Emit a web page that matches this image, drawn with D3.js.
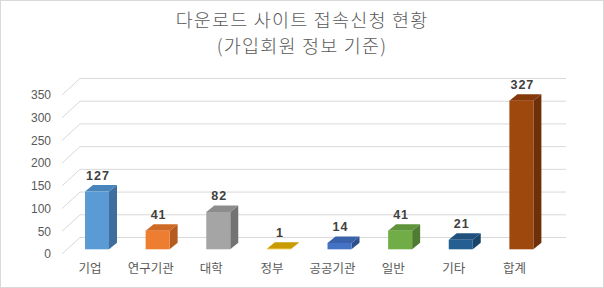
<!DOCTYPE html>
<html>
<head>
<meta charset="utf-8">
<script src="https://cdn.jsdelivr.net/npm/d3@7"></script>
<style>
  body { margin: 0; background: #fff; }
  svg { display: block; }
</style>
</head>
<body>
<svg width="604" height="288"></svg>
<script>
const categories = ['기업', '연구기관', '대학', '정부', '공공기관', '일반', '기타', '합계'];
const values = [127, 41, 82, 1, 14, 41, 21, 327];
const frontColors = ['#5B9BD5', '#ED7D31', '#A5A5A5', '#FFC000', '#4472C4', '#70AD47', '#255E91', '#9E480E'];
const sideColors = ['#3E6E9E', '#B55B1E', '#737373', '#B38800', '#2D4F8C', '#4F7C30', '#1A4468', '#6E3009'];
const topColors = ['#4A84BC', '#CF6A24', '#8C8C8C', '#C99B00', '#3A62AA', '#5F943B', '#20507D', '#85390B'];
const yTicks = [0, 50, 100, 150, 200, 250, 300, 350];
const titleLines = ['다운로드 사이트 접속신청 현황', '(가입회원 정보 기준)'];

const svg = d3.select('svg');
const font = "'Liberation Sans', Arial, sans-serif";
const krFont = "'Noto Sans CJK KR', 'Noto Sans', sans-serif";

// depth offset of the 3d look
const depthX = 18, depthY = -16.5;
const barDX = 8, barDY = -6.5;
const barWidth = 24;

svg.append('rect')
  .attr('x', 0.5).attr('y', 0.5)
  .attr('width', 603).attr('height', 287)
  .attr('fill', '#fff')
  .attr('stroke', '#d9d9d9');

svg.selectAll('.title')
  .data(titleLines)
  .join('text')
    .attr('class', 'title')
    .attr('x', 302)
    .attr('y', (d, i) => 21.5 + i * 26.8)
    .attr('text-anchor', 'middle')
    .attr('dominant-baseline', 'middle')
    .attr('font-family', krFont)
    .attr('font-size', 18.5)
    .attr('font-weight', 300)
    .attr('letter-spacing', 1.2)
    .attr('fill', '#595959')
    .text((d) => d);

// front plane scale (labels) and bar scale
const labelScale = d3.scaleLinear([0, 350], [254, 95]);
const barScale = d3.scaleLinear([0, 350], [249.3, 90.2]);
const xScale = d3.scalePoint(categories, [66.7, 551.7]).padding(0.5);

// gridlines: diagonal from front then along the back wall
const grid = svg.append('g');
grid.selectAll('path')
  .data(yTicks)
  .join('path')
    .attr('d', (d) => {
      const y = labelScale(d);
      return `M62,${y}L${62 + depthX},${y + depthY}L566,${y + depthY}`;
    })
    .attr('fill', 'none')
    .attr('stroke', '#d9d9d9')
    .attr('stroke-width', 1);

const yAxis = d3.axisLeft(labelScale).tickValues(yTicks).tickSize(0).tickPadding(0);
svg.append('g')
  .attr('transform', 'translate(51,0)')
  .call(yAxis)
  .call((g) => g.select('.domain').remove())
  .selectAll('text')
    .attr('font-family', font)
    .attr('font-size', 12)
    .attr('fill', '#595959');

const bars = svg.append('g').selectAll('g')
  .data(categories.map((c, i) => ({ c, v: values[i], i })))
  .join('g');

bars.each(function (d) {
  const g = d3.select(this);
  const x0 = xScale(d.c) - barWidth / 2;
  const x1 = x0 + barWidth;
  const yb = barScale(0);
  const yt = barScale(d.v);
  g.append('path')
    .attr('d', `M${x1},${yt}L${x1 + barDX},${yt + barDY}L${x1 + barDX},${yb + barDY}L${x1},${yb}Z`)
    .attr('fill', sideColors[d.i]);
  g.append('path')
    .attr('d', `M${x0},${yt}L${x0 + barDX},${yt + barDY}L${x1 + barDX},${yt + barDY}L${x1},${yt}Z`)
    .attr('fill', topColors[d.i]);
  g.append('rect')
    .attr('x', x0).attr('y', yt)
    .attr('width', barWidth).attr('height', Math.max(0, yb - yt))
    .attr('fill', frontColors[d.i]);
  g.append('text')
    .attr('x', xScale(d.c) + 1)
    .attr('y', yt + barDY - 8.5)
    .attr('text-anchor', 'middle')
    .attr('dominant-baseline', 'middle')
    .attr('font-family', font)
    .attr('font-size', 12.5)
    .attr('font-weight', 'bold')
    .attr('letter-spacing', 1)
    .attr('fill', '#404040')
    .text(d.v);
});

svg.selectAll('.cat')
  .data(categories)
  .join('text')
    .attr('class', 'cat')
    .attr('x', (d) => xScale(d) - 7)
    .attr('y', 270)
    .attr('text-anchor', 'middle')
    .attr('dominant-baseline', 'middle')
    .attr('font-family', krFont)
    .attr('font-size', 12.5)
    .attr('fill', '#595959')
    .text((d) => d);
</script>
</body>
</html>
